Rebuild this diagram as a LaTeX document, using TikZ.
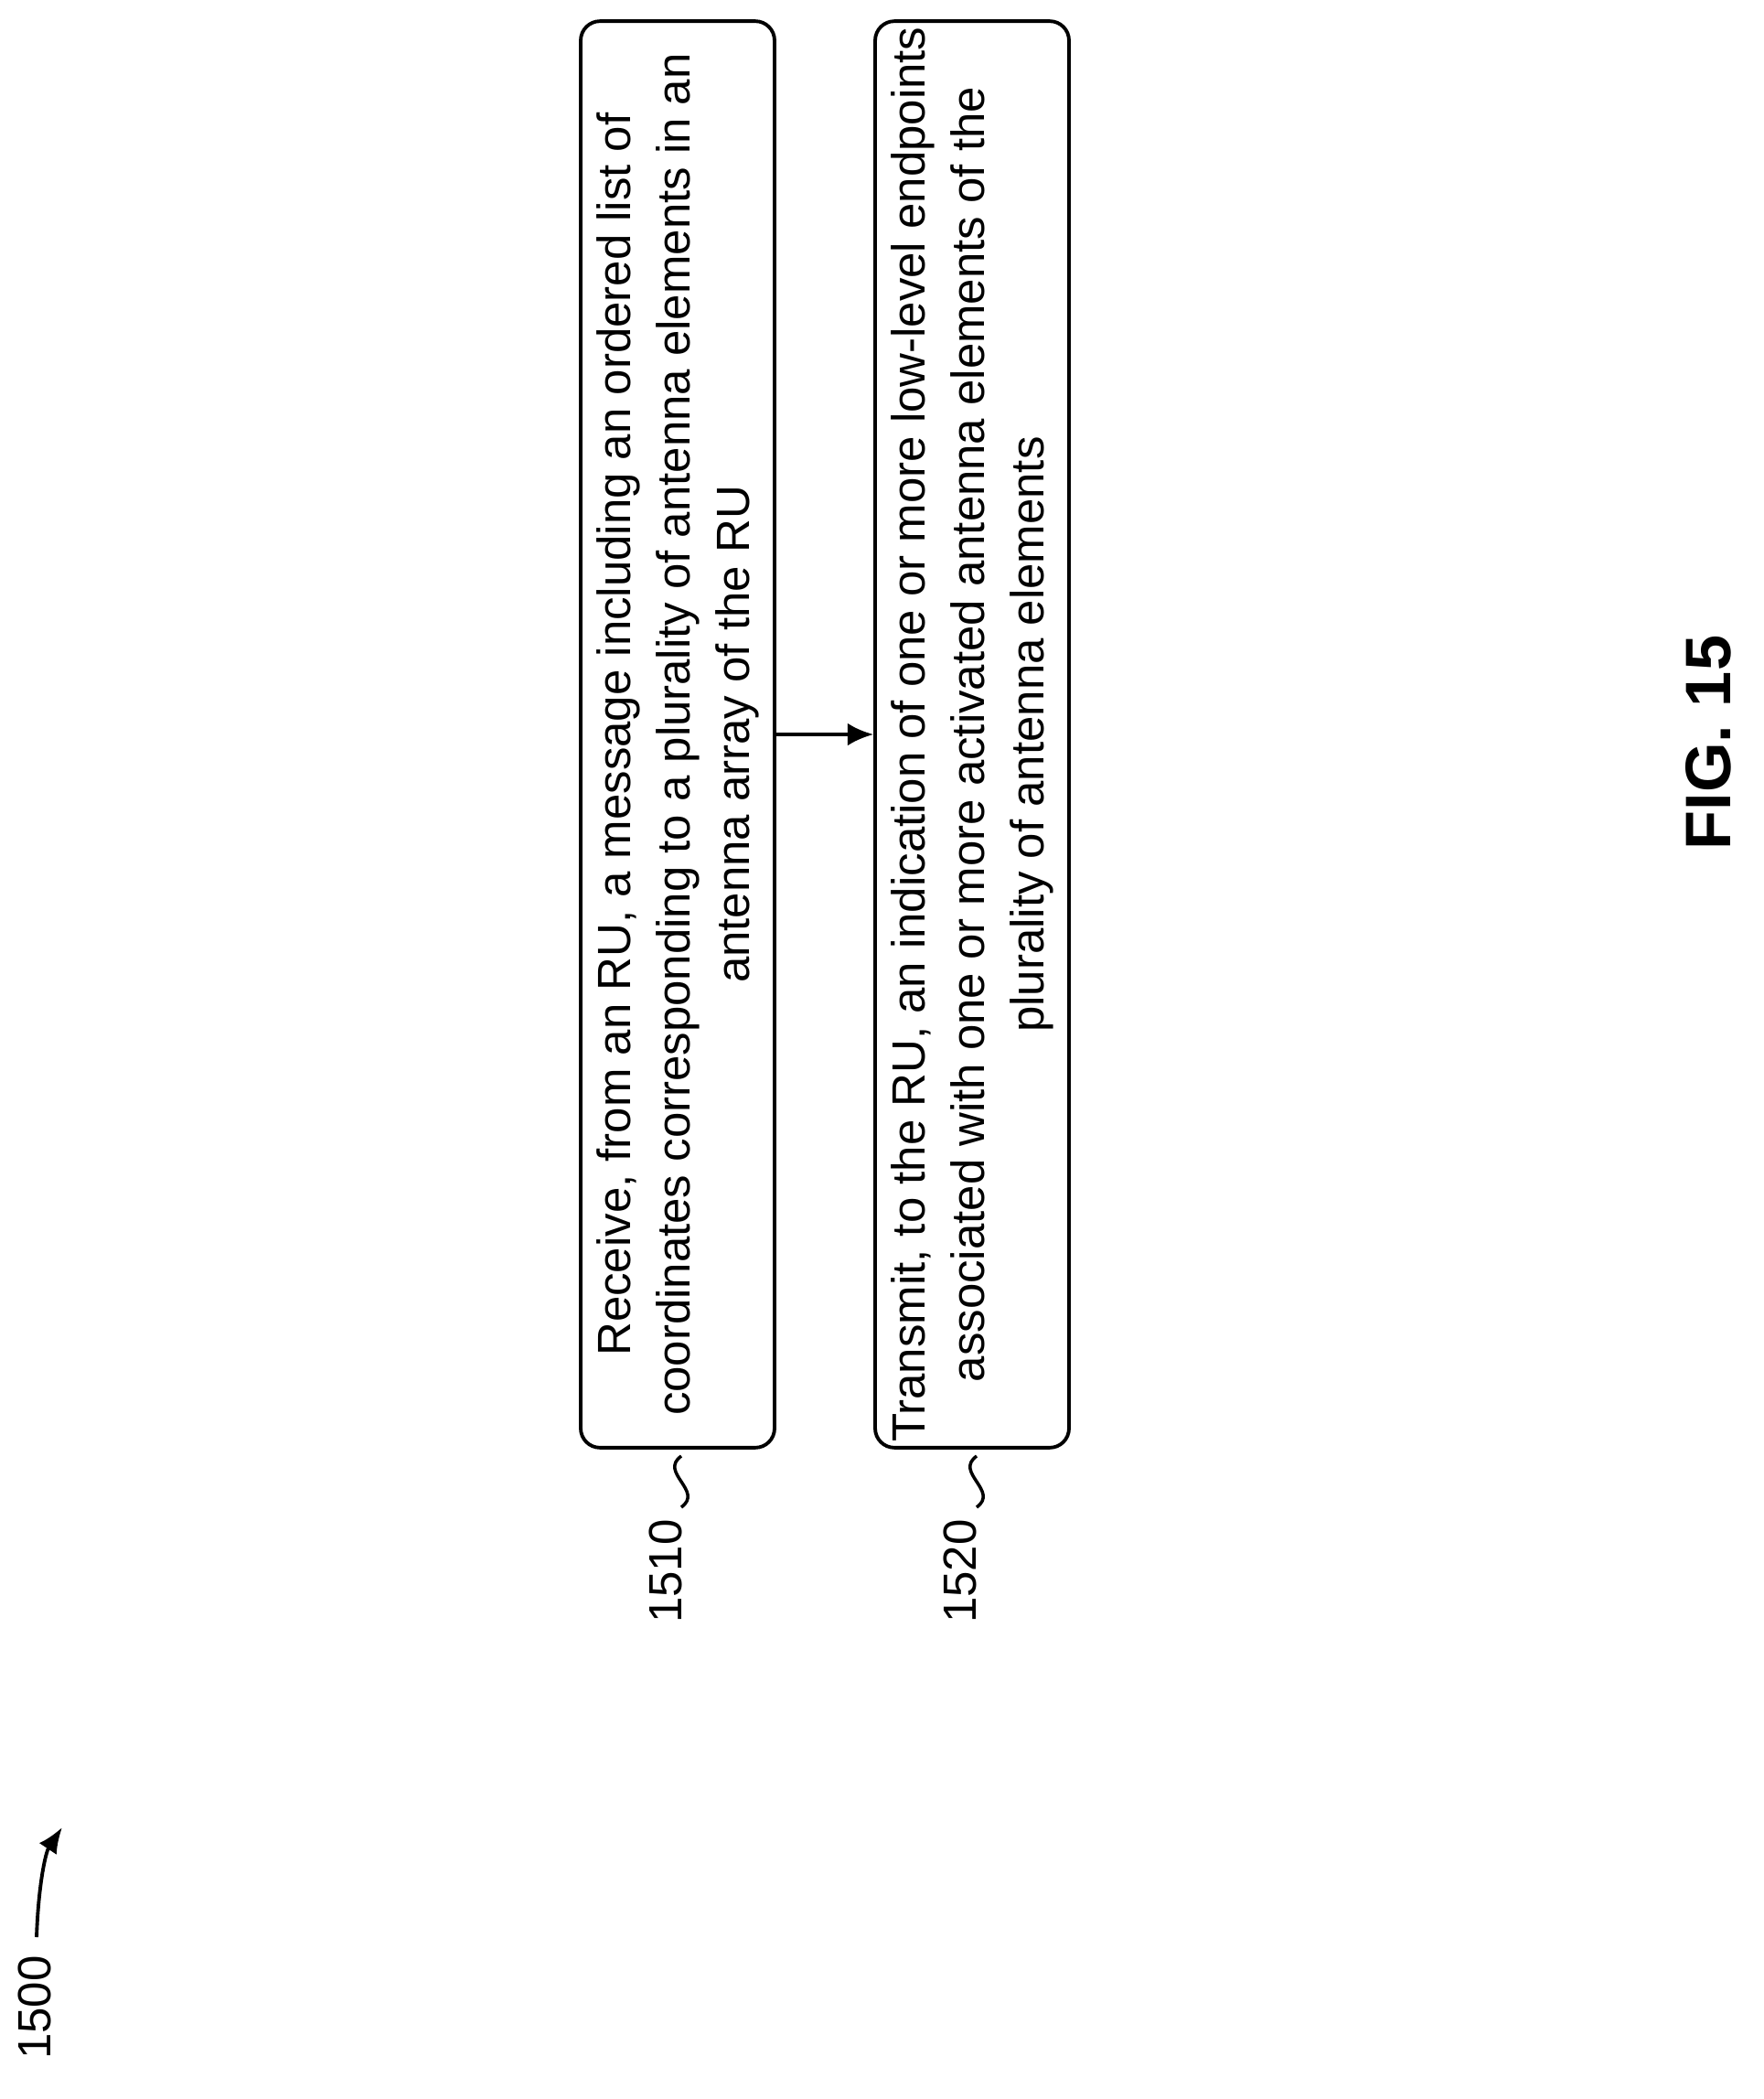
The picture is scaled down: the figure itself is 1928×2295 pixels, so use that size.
\documentclass[tikz,border=0pt]{standalone}
\usepackage{fontspec}
\setmainfont{Liberation Sans}
\usetikzlibrary{arrows.meta}
\begin{document}
\begin{tikzpicture}[x=0.02cm,y=-0.02cm,
  stepbox/.style={draw,line width=2.2pt,rounded corners=12pt,rotate=90,minimum width=31.2cm,minimum height=4.24cm,align=center,font=\fontsize{29}{37}\selectfont},
  lbl/.style={rotate=90,font=\fontsize{29}{32}\selectfont},
  squig/.style={line width=2pt}]
\useasboundingbox (0,0) rectangle (1928,2295);
\node[stepbox] (b1) at (741,803) {Receive, from an RU, a message including an ordered list of\\ coordinates corresponding to a plurality of antenna elements in an\\ antenna array of the RU};
\node[stepbox] (b2) at (1063,803) {Transmit, to the RU, an indication of one or more low-level endpoints\\ associated with one or more activated antenna elements of the\\ plurality of antenna elements};
\draw[line width=2.2pt,-{Latex[length=16pt,width=14pt]}] (b1.south) -- (b2.north);
\node[lbl] (l1) at (728,1718) {1510};
\node[lbl] (l2) at (1050,1718) {1520};
\coordinate (s1a) at (745,1592); \coordinate (s1b) at (745,1648);
\draw[squig] (s1a) .. controls (720,1610) and (770,1630) .. (s1b);
\coordinate (s2a) at (1068,1592); \coordinate (s2b) at (1068,1648);
\draw[squig] (s2a) .. controls (1043,1610) and (1093,1630) .. (s2b);
\node[lbl] (l0) at (38,2195) {1500};
\coordinate (a0) at (40,2118); \coordinate (a1) at (68,1998);
\draw[line width=2.2pt,-{Latex[length=16pt,width=13pt]}] (a0) .. controls (42,2060) and (50,2025) .. (a1);
\node[rotate=90,font=\bfseries\fontsize{40}{42}\selectfont] (fig) at (1868,812) {FIG. 15};
\end{tikzpicture}
\end{document}
